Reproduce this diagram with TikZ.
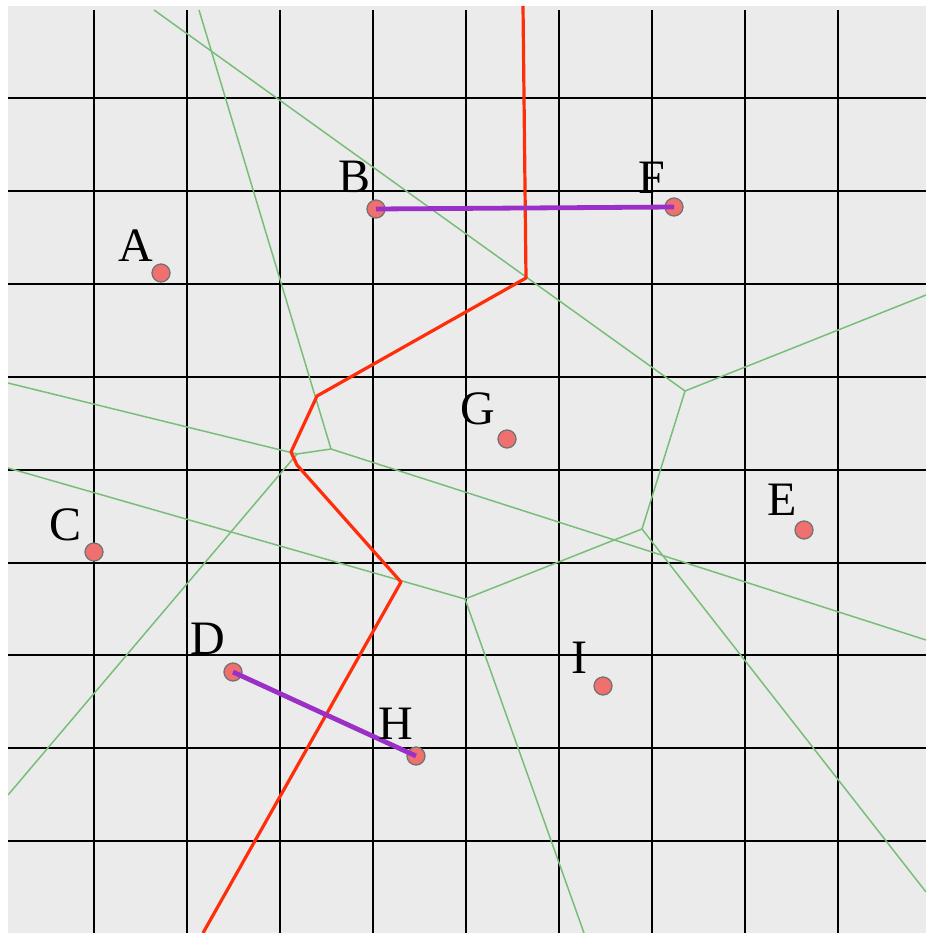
\documentclass[tikz,border=0pt]{standalone}
\usepackage{fontspec}
\setmainfont{Liberation Serif}
\definecolor{bgcol}{RGB}{235,235,235}
\definecolor{vorcol}{RGB}{120,190,120}
\definecolor{redcol}{RGB}{255,45,10}
\definecolor{purpcol}{RGB}{155,48,200}
\definecolor{sitefill}{RGB}{240,112,112}
\definecolor{siteedge}{RGB}{115,115,115}
\begin{document}
\begin{tikzpicture}[x=1pt,y=-1pt,
  gridline/.style={black,line width=2pt},
  vor/.style={vorcol,line width=1.5pt},
  redpath/.style={redcol,line width=3.2pt,line join=round},
  pair/.style={purpcol,line width=4.8pt},
  site/.style={circle,minimum size=18pt,inner sep=0pt,fill=sitefill,draw=siteedge,line width=1.3pt},
  lab/.style={anchor=base,inner sep=0pt,font=\fontsize{48}{48}\selectfont}]
\useasboundingbox (0,0) rectangle (926,933);
\fill[white] (0,0) rectangle (926,933);
\fill[bgcol] (8,6) rectangle (926,933);
\begin{scope}
\clip (8,6) rectangle (926,933);
% grid
\foreach \i in {0,...,8} {
  \draw[gridline] ({94+93*\i},10) -- ({94+93*\i},933);
  \draw[gridline] (8,{98+92.9*\i}) -- (926,{98+92.9*\i});
}
% Voronoi vertices and border ends
\coordinate (V1) at (297,454);
\coordinate (V2) at (331,449);
\coordinate (V3) at (465,599);
\coordinate (V4) at (642,529);
\coordinate (V5) at (685,391);
\coordinate (t1) at (154,10);
\coordinate (t2) at (199,10);
\coordinate (l1) at (8,383);
\coordinate (l2) at (8,468);
\coordinate (l3) at (8,795);
\coordinate (r1) at (926,295);
\coordinate (r2) at (926,640);
\coordinate (r3) at (926,892);
\coordinate (b1) at (584,933);
\draw[vor] (t1) -- (V5) -- (r1);
\draw[vor] (V5) -- (V4) -- (V3);
\draw[vor] (V4) -- (r3);
\draw[vor] (V3) -- (b1);
\draw[vor] (V3) -- (l2);
\draw[vor] (t2) -- (V2) -- (r2);
\draw[vor] (V2) -- (V1) -- (l1);
\draw[vor] (V1) -- (l3);
% red path
\coordinate (R0) at (523,6);
\coordinate (R1) at (526,278);
\coordinate (R2) at (317,396);
\coordinate (R3) at (291,452);
\coordinate (R4) at (297,465);
\coordinate (R5) at (401,582);
\coordinate (R6) at (203,933);
\draw[redpath] (R0) -- (R1) -- (R2) -- (R3) -- (R4) -- (R5) -- (R6);
\end{scope}
% sites
\node[site] (A) at (161,273) {};
\node[site] (B) at (376,209) {};
\node[site] (F) at (674,207) {};
\node[site] (G) at (507,439) {};
\node[site] (E) at (804,530) {};
\node[site] (C) at (94,552) {};
\node[site] (D) at (233,672) {};
\node[site] (H) at (416,756) {};
\node[site] (I) at (603,686) {};
\draw[pair] (B.center) -- (F.center);
\draw[pair] (D.center) -- (H.center);
% labels
\node[lab] (lA) at (136,261) {A};
\node[lab] (lB) at (355,193) {B};
\node[lab] (lF) at (652,194) {F};
\node[lab] (lG) at (478,424) {G};
\node[lab] (lE) at (782,515) {E};
\node[lab] (lC) at (66,540) {C};
\node[lab] (lD) at (208,654) {D};
\node[lab] (lH) at (396,739) {H};
\node[lab] (lI) at (579,673) {I};
\end{tikzpicture}
\end{document}
